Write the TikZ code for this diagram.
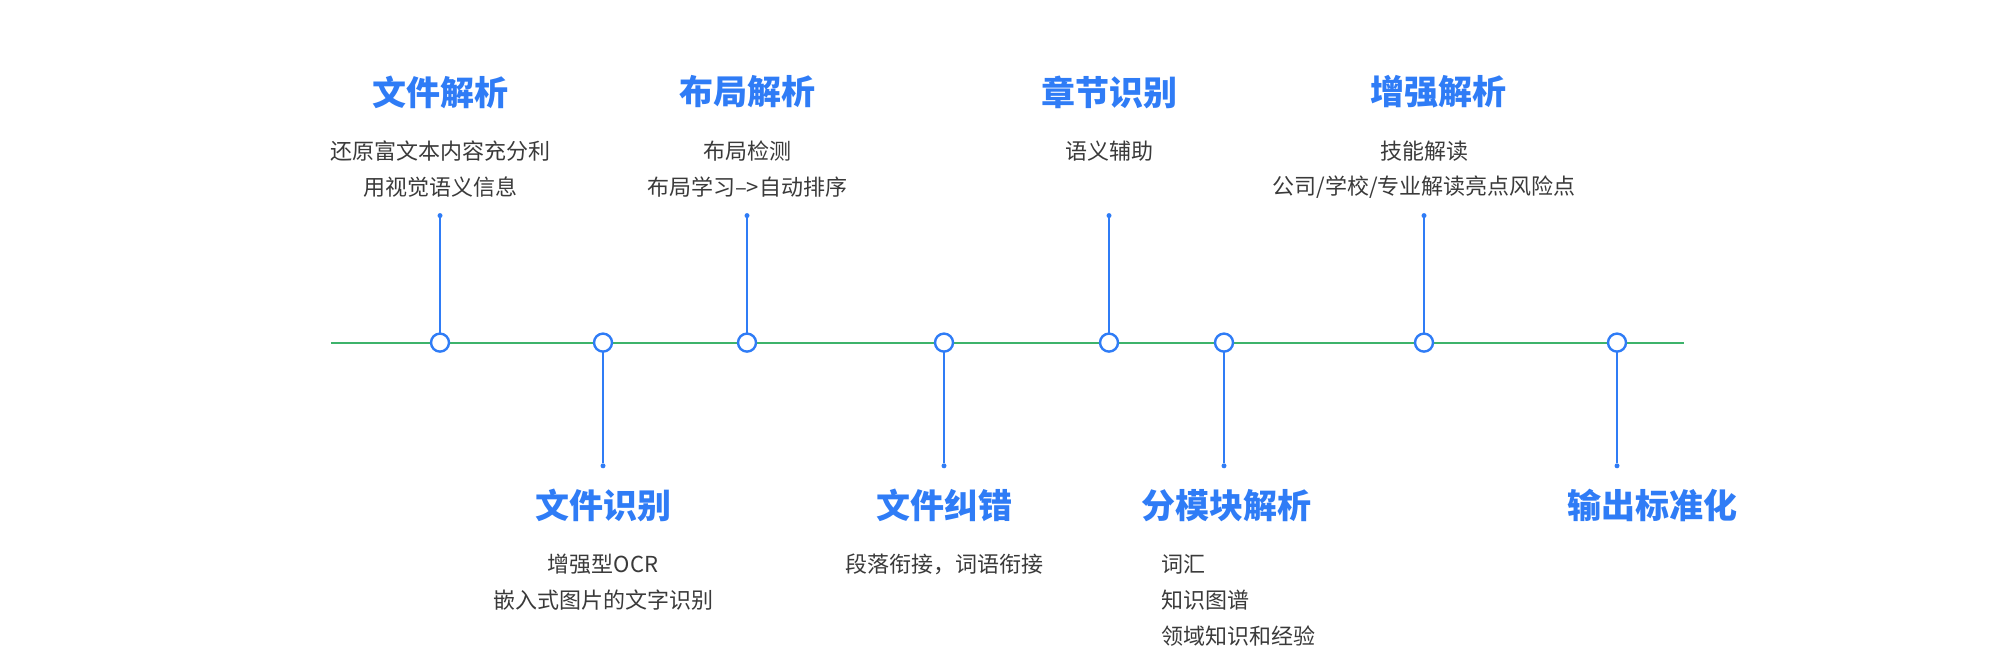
\documentclass[tikz,border=0pt]{standalone}
\usepackage{fontspec}
\setmainfont{Noto Sans CJK SC}
\definecolor{tblue}{HTML}{2F7CF6}
\definecolor{tgreen}{HTML}{3DB36B}
\definecolor{tgray}{HTML}{3A3A3A}
\begin{document}
\begin{tikzpicture}[x=1pt,y=-1pt,
  title/.style={text=tblue,font=\fontsize{34}{38}\selectfont\bfseries,inner sep=0},
  sub/.style={text=tgray,font=\fontsize{22}{26}\selectfont,inner sep=0},
  dot/.style={circle,draw=tblue,line width=2.4pt,fill=white,minimum size=18pt,inner sep=0},
  stem/.style={draw=tblue,line width=1.6pt},
  tip/.style={circle,fill=tblue,minimum size=5pt,inner sep=0}]
\useasboundingbox (0,0) rectangle (2012,656);
\coordinate (L) at (331,342.6);
\coordinate (R) at (1684,342.6);
\draw[tgreen,line width=1.8pt] (L) -- (R);
\foreach \n/\x/\ty in {a/440/215.6,b/603/465.8,c/747/215.6,d/944/465.8,e/1109/215.6,f/1224/465.8,g/1424/215.6,h/1617/465.8}{
  \node[tip] (t\n) at (\x,\ty) {};
  \draw[stem] (t\n) -- (\x,342.6);
  \node[dot] (c\n) at (\x,342.6) {};
}
% top
\node[title] (ta1) at (440,92) {文件解析};
\node[sub] (sa1) at (440,151.4) {还原富文本内容充分利};
\node[sub] (sa2) at (440,187.3) {用视觉语义信息};
\node[title] (tc1) at (747,92) {布局解析};
\node[sub] (sc1) at (747,151.4) {布局检测};
\node[sub] (sc2) at (747,187.3) {布局学习–>自动排序};
\node[title] (te1) at (1109,92) {章节识别};
\node[sub] (se1) at (1109,151.4) {语义辅助};
\node[title] (tg1) at (1438,92) {增强解析};
\node[sub] (sg1) at (1424,151.4) {技能解读};
\node[sub] (sg2) at (1424,187.3) {公司/学校/专业解读亮点风险点};
% bottom
\node[title] (tb1) at (603,505.6) {文件识别};
\node[sub] (sb1) at (603,564.6) {增强型OCR};
\node[sub] (sb2) at (603,600.5) {嵌入式图片的文字识别};
\node[title] (td1) at (944,505.6) {文件纠错};
\node[sub] (sd1) at (944,564.6) {段落衔接，词语衔接};
\node[title] (tf1) at (1226,505.6) {分模块解析};
\node[sub,anchor=west] (sf1) at (1161,564.6) {词汇};
\node[sub,anchor=west] (sf2) at (1161,600.5) {知识图谱};
\node[sub,anchor=west] (sf3) at (1161,636.5) {领域知识和经验};
\node[title] (th1) at (1652,505.6) {输出标准化};
\end{tikzpicture}
\end{document}
